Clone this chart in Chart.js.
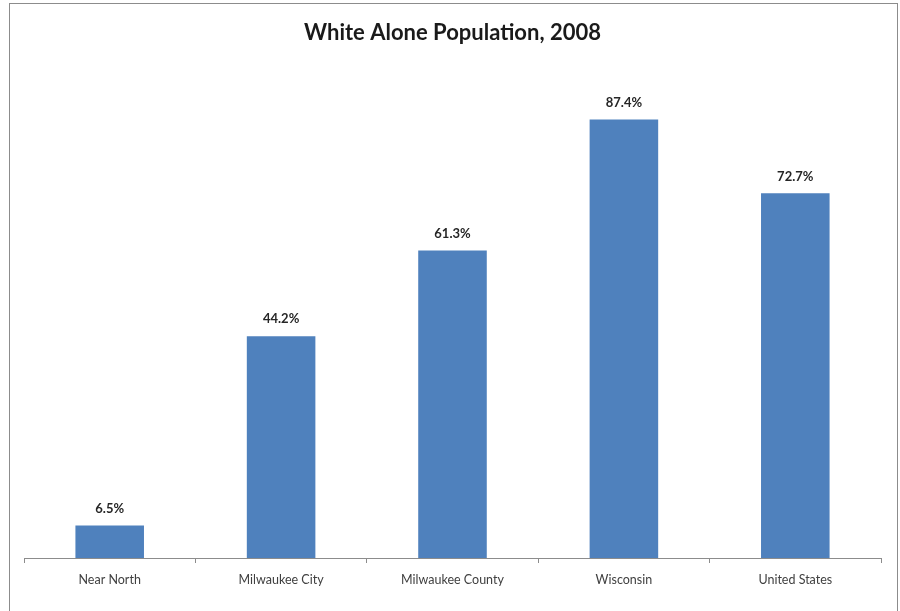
<!DOCTYPE html>
<html>
<head>
<meta charset="utf-8">
<script src="https://cdn.jsdelivr.net/npm/chart.js@4.4.1/dist/chart.umd.min.js"></script>
<style>
  html, body { margin: 0; padding: 0; background: #fff; }
  #wrap { width: 900px; height: 611px; position: relative; }
</style>
</head>
<body>
<div id="wrap"><canvas id="popChart" width="900" height="611"></canvas></div>
<script>
const categories = ['Near North', 'Milwaukee City', 'Milwaukee County', 'Wisconsin', 'United States'];
const whiteAlonePct = [6.5, 44.2, 61.3, 87.4, 72.7];

const FONT = 'Lato, "Open Sans", sans-serif';

// outer chart border like the spreadsheet export
const borderPlugin = {
    id: 'outerBorder',
    beforeDraw(chart) {
        const ctx = chart.ctx;
        ctx.save();
        ctx.fillStyle = '#fff';
        ctx.fillRect(0, 0, chart.width, chart.height);
        ctx.strokeStyle = '#8c8c8c';
        ctx.lineWidth = 1;
        ctx.strokeRect(9.5, 3.5, 888, chart.height + 10);
        ctx.restore();
    }
};

// value labels above each bar
const valueLabels = {
    id: 'valueLabels',
    afterDatasetsDraw(chart) {
        const ctx = chart.ctx;
        const meta = chart.getDatasetMeta(0);
        ctx.save();
        ctx.font = 'bold 13px ' + FONT;
        ctx.fillStyle = '#262626';
        ctx.textAlign = 'center';
        ctx.textBaseline = 'middle';
        meta.data.forEach((bar, i) => {
            ctx.fillText(whiteAlonePct[i].toFixed(1) + '%', bar.x, bar.y - 17);
        });
        ctx.restore();
    }
};

new Chart(document.getElementById('popChart').getContext('2d'), {
    type: 'bar',
    data: {
        labels: categories,
        datasets: [{
            label: 'White Alone',
            data: whiteAlonePct,
            backgroundColor: '#4f81bd',
            borderWidth: 0,
            categoryPercentage: 1.0,
            barPercentage: 0.4
        }]
    },
    options: {
        responsive: false,
        animation: false,
        devicePixelRatio: 1,
        layout: { padding: { left: 24, right: 19, top: 0, bottom: 15 } },
        scales: {
            y: {
                display: false,
                min: 0,
                max: 100
            },
            x: {
                grid: {
                    display: true,
                    drawOnChartArea: false,
                    drawTicks: true,
                    tickLength: 5,
                    color: '#8c8c8c'
                },
                border: { display: true, color: '#8c8c8c', width: 1 },
                ticks: {
                    color: '#404040',
                    padding: 9,
                    font: { family: FONT, size: 12.5 }
                }
            }
        },
        plugins: {
            legend: { display: false },
            tooltip: { enabled: false },
            title: {
                display: true,
                text: 'White Alone Population, 2008',
                color: '#1a1a1a',
                font: { family: FONT, size: 22, weight: 'bold' },
                padding: { top: 20, bottom: 10 }
            }
        }
    },
    plugins: [borderPlugin, valueLabels]
});
</script>
</body>
</html>
